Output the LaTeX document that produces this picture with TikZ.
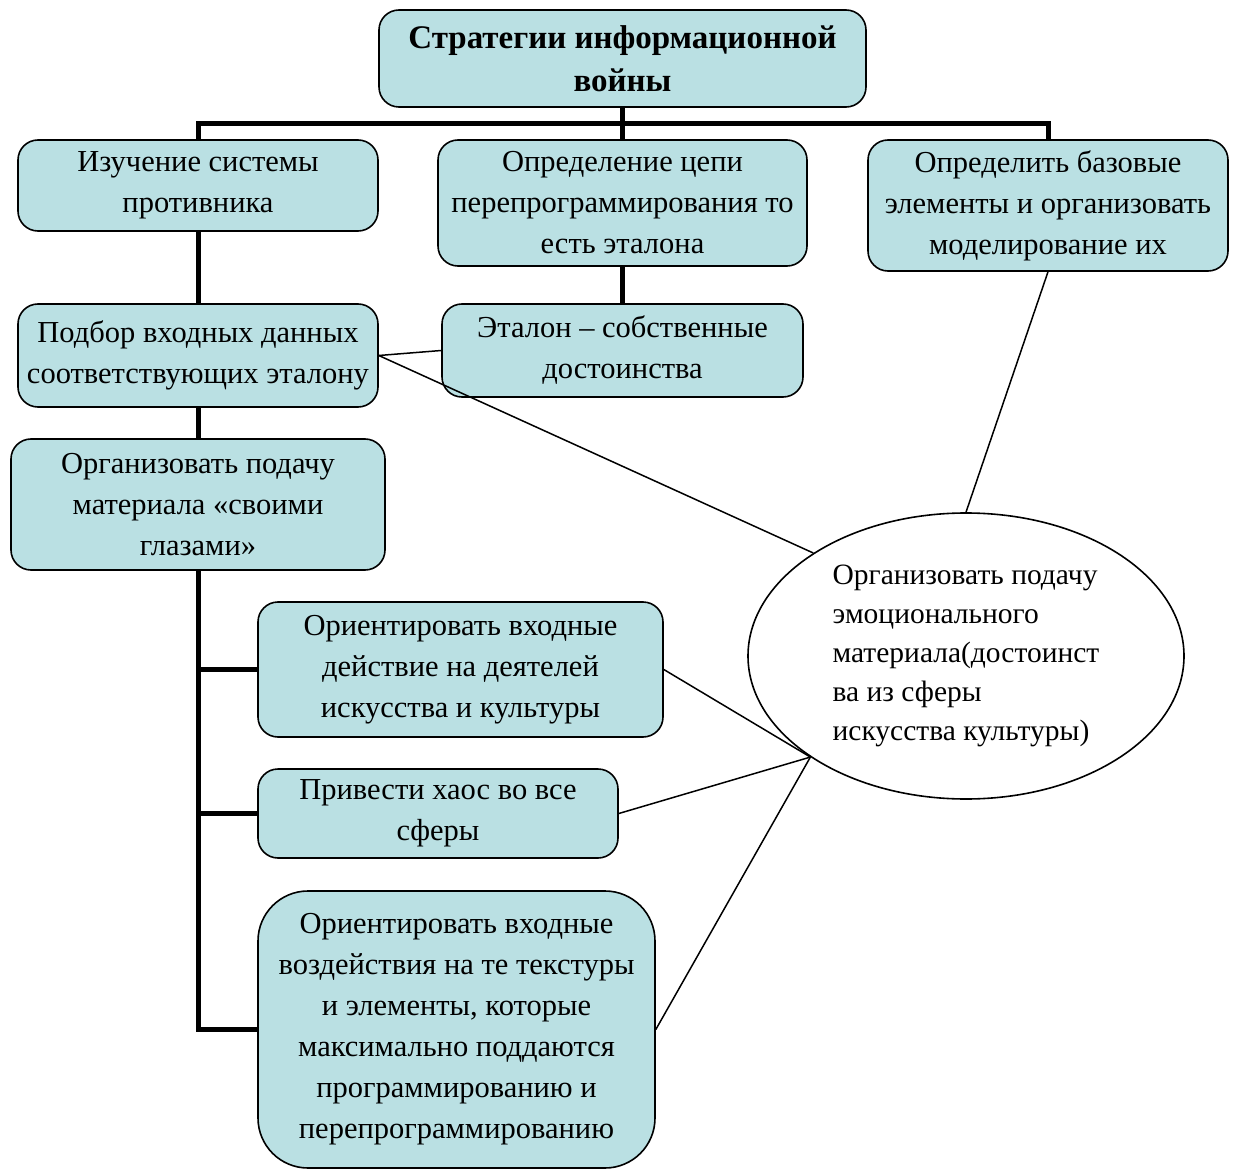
\documentclass[tikz,border=0pt]{standalone}
\usepackage{fontspec}
\setmainfont{Liberation Serif}
\usetikzlibrary{shapes.geometric}
\definecolor{boxfill}{RGB}{186,224,227}
\tikzset{
  box/.style={draw=black, line width=1.6pt, fill=boxfill, rounded corners=20pt,
    inner sep=0pt, align=center, font=\fontsize{30.5}{41}\selectfont},
  thickline/.style={line width=5pt},
  thinline/.style={line width=1.5pt},
}
\begin{document}
\begin{tikzpicture}[x=1pt,y=-1pt]
\useasboundingbox (0,0) rectangle (1235,1169);
% nodes
\node[box, minimum width=487pt, minimum height=97pt, font=\fontsize{33}{43}\selectfont\bfseries] (t) at (622.5,58.5) {Стратегии информационной\\войны};
\node[box, minimum width=360pt, minimum height=91pt] (b1) at (198,185.5) {Изучение системы\\противника};
\node[box, minimum width=369pt, minimum height=126pt] (b2) at (622.5,203) {Определение цепи\\перепрограммирования то\\есть эталона};
\node[box, minimum width=360pt, minimum height=131pt] (b3) at (1048,205.5) {Определить базовые\\элементы и организовать\\моделирование их};
\node[box, minimum width=360pt, minimum height=103pt] (b4) at (198,355.5) {Подбор входных данных\\соответствующих эталону};
\node[box, minimum width=361pt, minimum height=93pt] (b5) at (622.5,350.5) {Эталон – собственные\\достоинства};
\node[box, minimum width=374pt, minimum height=131pt] (b6) at (198,504.5) {Организовать подачу\\материала «своими\\глазами»};
\node[box, minimum width=405pt, minimum height=135pt] (b7) at (460.5,669.5) {Ориентировать входные\\действие на деятелей\\искусства и культуры};
\node[box, minimum width=360pt, minimum height=89pt] (b8) at (438,813.5) {Привести хаос во все\\сферы};
\node[box, rounded corners=50pt, minimum width=397pt, minimum height=277pt] (b9) at (456.5,1029.5) {Ориентировать входные\\воздействия на те текстуры\\и элементы, которые\\максимально поддаются\\программированию и\\перепрограммированию};
\node[draw=black, line width=1.6pt, ellipse, inner sep=0pt, minimum width=436pt, minimum height=286pt,
  align=left, font=\fontsize{29.5}{39}\selectfont] (el) at (966,656) {Организовать подачу\\эмоционального\\материала(достоинст\\ва из сферы\\искусства культуры)};
% tree connectors
\coordinate (bar) at (622.5,124);
\draw[thickline] (b1.north) |- (b3.north |- bar) -- (b3.north);
\draw[thickline] (t.south) -- (b2.north);
\draw[thickline] (b1.south) -- (b4.north);
\draw[thickline] (b2.south) -- (b5.north);
\draw[thickline] (b4.south) -- (b6.north);
\draw[thickline] (b6.south) |- (b9.west);
\draw[thickline] (b6.south |- b7.west) -- (b7.west);
\draw[thickline] (b6.south |- b8.west) -- (b8.west);
% thin connectors
\draw[thinline] (b4.east) -- (b5.west);
\draw[thinline] (b4.east) -- (el.146);
\draw[thinline] (b3.south) -- (el.north);
\draw[thinline] (b7.east) -- (el.213);
\draw[thinline] (b8.east) -- (el.213);
\draw[thinline] (b9.east) -- (el.213);
\end{tikzpicture}
\end{document}
